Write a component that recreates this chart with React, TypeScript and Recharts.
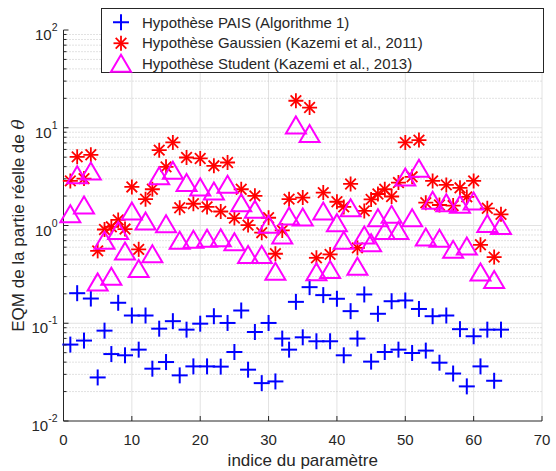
import React from 'react';
import { ScatterChart, Scatter, XAxis, YAxis, CartesianGrid, ReferenceLine, Legend, Label } from 'recharts';

// parameter index (x) and MSE per method (y, log scale)
const indices = [
  1, 2, 3, 4, 5, 6, 7, 8, 9, 10, 11, 12, 13, 14, 15, 16,
  17, 18, 19, 20, 21, 22, 23, 24, 25, 26, 27, 28, 29, 30, 31, 32,
  33, 34, 35, 36, 37, 38, 39, 40, 41, 42, 43, 44, 45, 46, 47, 48,
  49, 50, 51, 52, 53, 54, 55, 56, 57, 58, 59, 60, 61, 62, 63, 64,
];

const paisValues = [
  0.0605, 0.203, 0.0665, 0.179, 0.0279, 0.084, 0.0484, 0.162, 0.047, 0.12, 0.0537, 0.12, 0.0343, 0.088, 0.0401, 0.105,
  0.0293, 0.086, 0.0362, 0.099, 0.0362, 0.118, 0.036, 0.1007, 0.0508, 0.135, 0.0335, 0.0814, 0.0244, 0.1007, 0.0254, 0.0697,
  0.0537, 0.1655, 0.0718, 0.234, 0.0654, 0.194, 0.0654, 0.178, 0.047, 0.133, 0.0697, 0.197, 0.0405, 0.125, 0.0508, 0.168,
  0.0537, 0.171, 0.0496, 0.14, 0.0525, 0.118, 0.0395, 0.12, 0.0306, 0.087, 0.0226, 0.0736, 0.0362, 0.086, 0.0258, 0.086,
];

const gaussValues = [
  2.86, 5.04, 3.02, 5.29, 0.55, 0.91, 0.97, 1.14, 0.92, 2.48, 0.57, 1.86, 2.35, 5.9, 3.98, 7.07,
  1.52, 4.96, 1.67, 4.85, 1.55, 4.08, 1.39, 4.41, 1.19, 2.35, 1.01, 2.01, 0.844, 1.2, 0.514, 0.89,
  1.86, 18.9, 1.93, 16.1, 0.467, 2.17, 0.506, 1.75, 1.55, 2.66, 0.59, 1.41, 1.85, 2.1, 2.35, 1.98,
  2.75, 7.07, 3.15, 7.48, 1.71, 2.86, 1.62, 2.6, 1.6, 2.43, 1.96, 2.86, 0.635, 1.5, 0.475, 1.3,
];

const studentValues = [
  1.32, 3.3, 1.62, 3.62, 0.265, 0.705, 0.303, 0.89, 0.548, 1.41, 0.363, 1.11, 0.514, 3.22, 1.04, 3.68,
  0.705, 2.75, 0.722, 2.48, 0.74, 2.26, 0.75, 2.64, 0.683, 1.71, 0.506, 1.47, 0.506, 1.03, 0.341, 0.8,
  1.25, 10.7, 1.22, 8.74, 0.336, 1.41, 0.355, 1.07, 0.705, 1.52, 0.384, 0.8, 0.667, 1.2, 0.89, 1.3,
  0.89, 3.14, 1.2, 3.86, 0.762, 1.81, 0.74, 1.71, 0.57, 1.65, 0.617, 1.78, 0.335, 1.05, 0.28, 1.0,
];

const seriesNames = [
  'Hypothèse PAIS (Algorithme 1)',
  'Hypothèse Gaussien (Kazemi et al., 2011)',
  'Hypothèse Student (Kazemi et al., 2013)',
];

const xTicks = [0, 10, 20, 30, 40, 50, 60, 70];
const majorTicks = [0.01, 0.1, 1, 10, 100];
const minorTicks = [
  0.02, 0.03, 0.04, 0.05, 0.06, 0.07, 0.08, 0.09,
  0.2, 0.3, 0.4, 0.5, 0.6, 0.7, 0.8, 0.9,
  2, 3, 4, 5, 6, 7, 8, 9,
  20, 30, 40, 50, 60, 70, 80, 90,
];
const allYTicks = [...majorTicks, ...minorTicks];

const AXIS = '#262626';
const FONT = '"Liberation Sans", Arial, Helvetica, sans-serif';
const BLUE = '#0000ff';
const RED = '#ff0000';
const MAGENTA = '#ff00ff';

const toPoints = (vals: number[]) => indices.map((x, i) => ({ x, y: vals[i] }));

const Plus = ({ cx, cy, color = BLUE }: any) => (
  <g stroke={color} strokeWidth={2} fill="none">
    <line x1={cx - 8} x2={cx + 8} y1={cy} y2={cy} />
    <line x1={cx} x2={cx} y1={cy - 8} y2={cy + 8} />
  </g>
);

const Star = ({ cx, cy, color = RED }: any) => (
  <g stroke={color} strokeWidth={1.8} fill="none">
    <line x1={cx - 7.5} x2={cx + 7.5} y1={cy} y2={cy} />
    <line x1={cx} x2={cx} y1={cy - 7.5} y2={cy + 7.5} />
    <line x1={cx - 5.3} x2={cx + 5.3} y1={cy - 5.3} y2={cy + 5.3} />
    <line x1={cx - 5.3} x2={cx + 5.3} y1={cy + 5.3} y2={cy - 5.3} />
  </g>
);

const Tri = ({ cx, cy, color = MAGENTA }: any) => (
  <polygon
    points={`${cx},${cy - 8.5} ${cx - 10},${cy + 8.5} ${cx + 10},${cy + 8.5}`}
    stroke={color}
    strokeWidth={2}
    fill="none"
  />
);

const markerFor = [Plus, Star, Tri];

const isMajor = (v: number) => majorTicks.includes(v);

const LeftTick = (props: any) => {
  const { x, y, payload } = props;
  const v = payload.value;
  const major = isMajor(v);
  const exp = Math.round(Math.log10(v));
  return (
    <g>
      <line x1={x} x2={x + (major ? 5 : 3)} y1={y} y2={y} stroke={AXIS} />
      {major && (
        <text x={x - 6} y={y + 10} textAnchor="end" fontSize={15} fill={AXIS} fontFamily={FONT}>
          10
          <tspan dy={-9} fontSize={10.5}>{exp}</tspan>
        </text>
      )}
    </g>
  );
};

const RightTick = (props: any) => {
  const { x, y, payload } = props;
  const major = isMajor(payload.value);
  return <line x1={x} x2={x - (major ? 5 : 3)} y1={y} y2={y} stroke={AXIS} />;
};

const BottomTick = (props: any) => {
  const { x, y, payload } = props;
  return (
    <g>
      <line x1={x} x2={x} y1={y} y2={y - 5} stroke={AXIS} />
      <text x={x} y={y + 24} textAnchor="middle" fontSize={15} fill={AXIS} fontFamily={FONT}>
        {payload.value}
      </text>
    </g>
  );
};

const TopTick = (props: any) => {
  const { x, y } = props;
  return <line x1={x} x2={x} y1={y} y2={y + 5} stroke={AXIS} />;
};

const YTitle = ({ viewBox }: any) => {
  const cy = viewBox.y + viewBox.height / 2;
  return (
    <text transform={`translate(24,${cy}) rotate(-90)`} textAnchor="middle" fontSize={17} fill={AXIS} fontFamily={FONT}>
      EQM de la partie réelle de <tspan fontStyle="italic" fontFamily='"DejaVu Serif", serif'>θ</tspan>
    </text>
  );
};

const XTitle = ({ viewBox }: any) => (
  <text x={viewBox.x + viewBox.width / 2} y={viewBox.y + 45} textAnchor="middle" fontSize={17} fill={AXIS} fontFamily={FONT}>
    indice du paramètre
  </text>
);

const LegendBox = ({ payload }: any) => {
  const items = [...(payload || [])].sort(
    (a: any, b: any) => seriesNames.indexOf(a.value) - seriesNames.indexOf(b.value)
  );
  return (
    <div
      style={{
        border: `1px solid ${AXIS}`,
        background: '#fff',
        width: 443,
        height: 65,
        boxSizing: 'border-box',
        paddingTop: 3,
        fontFamily: FONT,
        fontSize: 15,
        color: AXIS,
      }}
    >
      {items.map((entry: any, i: number) => {
        const idx = seriesNames.indexOf(entry.value);
        const M = markerFor[idx >= 0 ? idx : i];
        return (
          <div key={i} style={{ height: 20.5, display: 'flex', alignItems: 'center' }}>
            <svg width={40} height={20.5} style={{ flex: 'none' }}>
              <M cx={19} cy={10.25} />
            </svg>
            <span style={{ whiteSpace: 'nowrap' }}>{entry.value}</span>
          </div>
        );
      })}
    </div>
  );
};

export default function App() {
  return (
    <div style={{ position: 'absolute', left: 0, top: 0, background: '#fff' }}>
      <ScatterChart width={556} height={471} margin={{ top: 30, right: 14, bottom: 0, left: 0 }}>
        <CartesianGrid horizontal={false} stroke="#e2e2e2" />
        {minorTicks.map((v) => (
          <ReferenceLine key={`m${v}`} yAxisId="left" y={v} stroke="#c4c4c4" strokeDasharray="1 2" />
        ))}
        {[0.1, 1, 10].map((v) => (
          <ReferenceLine key={`M${v}`} yAxisId="left" y={v} stroke="#e2e2e2" />
        ))}
        <XAxis
          dataKey="x"
          type="number"
          domain={[0, 70]}
          ticks={xTicks}
          height={50}
          tickSize={0}
          tickMargin={0}
          tickLine={false}
          tick={<BottomTick />}
          interval={0}
          axisLine={{ stroke: AXIS }}
        >
          <Label content={<XTitle />} />
        </XAxis>
        <XAxis
          xAxisId="top"
          orientation="top"
          type="number"
          domain={[0, 70]}
          ticks={xTicks}
          height={0}
          tickSize={0}
          tickMargin={0}
          tickLine={false}
          tick={<TopTick />}
          interval={0}
          axisLine={{ stroke: AXIS }}
        />
        <YAxis
          yAxisId="left"
          dataKey="y"
          type="number"
          scale="log"
          domain={[0.01, 100]}
          allowDataOverflow
          ticks={allYTicks}
          width={63.5}
          tickSize={0}
          tickMargin={0}
          tickLine={false}
          tick={<LeftTick />}
          interval={0}
          axisLine={{ stroke: AXIS }}
        >
          <Label content={<YTitle />} />
        </YAxis>
        <YAxis
          yAxisId="right"
          orientation="right"
          type="number"
          scale="log"
          domain={[0.01, 100]}
          allowDataOverflow
          ticks={allYTicks}
          width={0}
          tickSize={0}
          tickMargin={0}
          tickLine={false}
          tick={<RightTick />}
          interval={0}
          axisLine={{ stroke: AXIS }}
        />
        <Scatter
          name={seriesNames[0]}
          yAxisId="left"
          data={toPoints(paisValues)}
          fill={BLUE}
          shape={(p: any) => <Plus cx={p.cx} cy={p.cy} />}
          isAnimationActive={false}
        />
        <Scatter
          name={seriesNames[1]}
          yAxisId="left"
          data={toPoints(gaussValues)}
          fill={RED}
          shape={(p: any) => <Star cx={p.cx} cy={p.cy} />}
          isAnimationActive={false}
        />
        <Scatter
          name={seriesNames[2]}
          yAxisId="left"
          data={toPoints(studentValues)}
          fill={MAGENTA}
          shape={(p: any) => <Tri cx={p.cx} cy={p.cy} />}
          isAnimationActive={false}
        />
        <Legend
          layout="vertical"
          align="center"
          verticalAlign="middle"
          content={<LegendBox />}
          wrapperStyle={{ top: 8, left: 101, width: 443, height: 65 }}
        />
      </ScatterChart>
    </div>
  );
}
